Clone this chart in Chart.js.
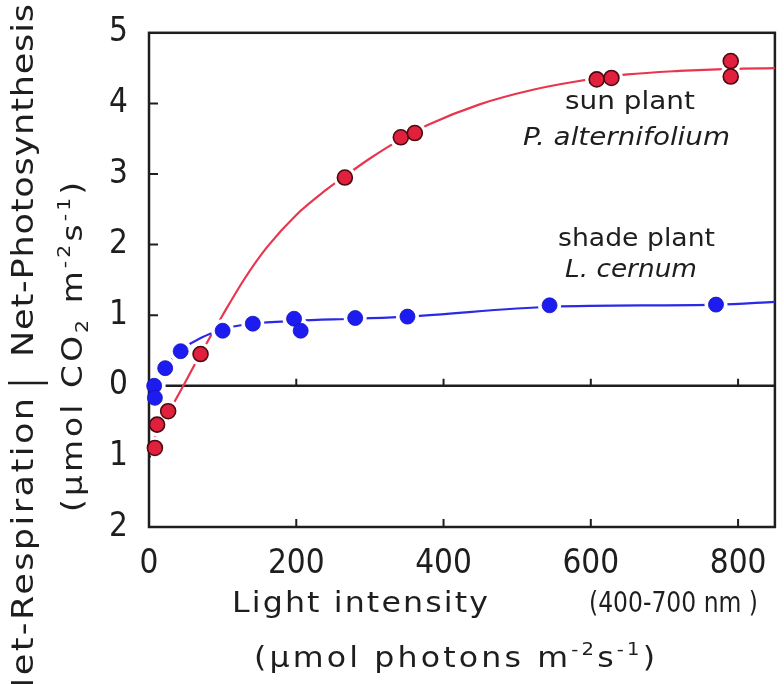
<!DOCTYPE html>
<html>
<head>
<meta charset="utf-8">
<script src="https://cdn.jsdelivr.net/npm/chart.js@4/dist/chart.umd.min.js"></script>
<style>
  html, body { margin: 0; padding: 0; background: #fff; }
  canvas { display: block; }
</style>
</head>
<body>
<canvas id="chart" width="784" height="684"></canvas>
<script>
// light response of photosynthesis: sun plant vs shade plant

// measured points, sun plant (P. alternifolium)
const sunLight = [8, 11, 26, 70, 266, 342, 361, 608, 628, 790, 790];
const sunPhoto = [-0.88, -0.55, -0.36, 0.45, 2.95, 3.52, 3.58, 4.34, 4.36, 4.60, 4.38];

// measured points, shade plant (L. cernum)
const shadeLight = [7, 8, 22, 43, 100, 141, 197, 206, 280, 351, 544, 770];
const shadePhoto = [0.0, -0.17, 0.25, 0.49, 0.78, 0.88, 0.95, 0.78, 0.96, 0.98, 1.14, 1.15];

// hand-drawn response curves
const sunCurveLight = [5, 11, 26, 70, 100, 130, 160, 200, 240, 270, 300, 340, 380, 450, 520, 580, 650, 720, 790, 850];
const sunCurvePhoto = [-0.85, -0.62, -0.38, 0.45, 1.0, 1.52, 1.96, 2.42, 2.77, 3.0, 3.22, 3.48, 3.7, 3.99, 4.19, 4.31, 4.41, 4.46, 4.49, 4.5];
const shadeCurveLight = [5, 22, 43, 100, 141, 200, 280, 352, 546, 772, 850];
const shadeCurvePhoto = [0.0, 0.26, 0.5, 0.8, 0.88, 0.92, 0.95, 0.98, 1.12, 1.15, 1.19];

// axis ticks
const xTicks = [0, 200, 400, 600, 800];
const yTicks = [-2, -1, 0, 1, 2, 3, 4, 5];

const ink = '#1e1e1e';
const sunLine = '#e8364f';
const sunDot = '#e0203c';
const shadeLine = '#2a2ae6';
const shadeDot = '#1c1cf0';
const tickFam = '"DejaVu Sans Condensed", "DejaVu Sans", sans-serif';
const textFam = '"DejaVu Sans", sans-serif';

const pts = (xs, ys) => xs.map((x, i) => ({ x: x, y: ys[i] }));

// draws a run of text pieces (normal / sup / sub) fitted to a given width:
// squeezed when too long, otherwise widened a little and letter-spaced
function drawRich(ctx, parts, size, italic, width) {
  const font = s => (italic ? 'italic ' : '') + s + 'px ' + textFam;
  const small = size * 0.62;
  const canSpace = 'letterSpacing' in ctx;
  if (canSpace) ctx.letterSpacing = '0px';
  let total = 0, chars = 0;
  const widths = parts.map(([t, m]) => {
    ctx.font = font(m === 'n' ? size : small);
    const w = ctx.measureText(t).width;
    total += w;
    chars += t.length;
    return w;
  });
  const ratio = width / total;
  const stretch = (ratio <= 1 || !canSpace) ? ratio : Math.min(ratio, 1.13);
  let gap = 0;
  ctx.save();
  ctx.scale(stretch, 1);
  if (canSpace && ratio > 1) {
    gap = (width / stretch - total) / Math.max(chars - 1, 1);
    ctx.letterSpacing = gap.toFixed(2) + 'px';
  }
  let x = 0;
  parts.forEach(([t, m], i) => {
    ctx.font = font(m === 'n' ? size : small);
    const dy = m === 'sup' ? -size * 0.42 : m === 'sub' ? size * 0.22 : 0;
    ctx.fillText(t, x, dy);
    x += widths[i] + gap * t.length;
  });
  ctx.restore();
  if (canSpace) ctx.letterSpacing = '0px';
}

function textAt(ctx, parts, size, italic, x0, x1, baseline) {
  ctx.save();
  ctx.translate(x0, baseline);
  drawRich(ctx, parts, size, italic, x1 - x0);
  ctx.restore();
}

function textUp(ctx, parts, size, baseX, yBottom, yTop) {
  ctx.save();
  ctx.translate(baseX, yBottom);
  ctx.rotate(-Math.PI / 2);
  drawRich(ctx, parts, size, false, yBottom - yTop);
  ctx.restore();
}

const framePlugin = {
  id: 'frame',
  beforeDatasetsDraw(chart) {
    const { ctx, chartArea: a, scales: { x, y } } = chart;
    const y0 = y.getPixelForValue(0);
    ctx.save();
    ctx.strokeStyle = ink;
    ctx.lineWidth = 2.5;
    ctx.strokeRect(a.left, a.top, a.right - a.left, a.bottom - a.top);
    ctx.beginPath();
    ctx.moveTo(a.left, y0);
    ctx.lineTo(a.right, y0);
    ctx.stroke();
    ctx.lineWidth = 2;
    ctx.beginPath();
    xTicks.filter(v => v > 0).forEach(v => {
      const px = x.getPixelForValue(v);
      ctx.moveTo(px, a.bottom);
      ctx.lineTo(px, a.bottom - 8);
      ctx.moveTo(px, y0);
      ctx.lineTo(px, y0 - 7);
    });
    yTicks.filter(v => v !== 0 && v > -2 && v < 5).forEach(v => {
      const py = y.getPixelForValue(v);
      ctx.moveTo(a.left, py);
      ctx.lineTo(a.left + 9, py);
    });
    ctx.stroke();
    ctx.restore();
  }
};

// white rings under the markers so the curves and the zero line break around them
const haloPlugin = {
  id: 'halo',
  beforeDatasetDraw(chart, args) {
    if (args.index !== 2) return;
    const { ctx, chartArea: a } = chart;
    ctx.save();
    ctx.beginPath();
    ctx.rect(a.left + 2, a.top + 2, a.right - a.left - 4, a.bottom - a.top - 4);
    ctx.clip();
    ctx.fillStyle = '#fff';
    [2, 3].forEach(i => {
      chart.getDatasetMeta(i).data.forEach(p => {
        ctx.beginPath();
        ctx.arc(p.x, p.y, 11.5, 0, Math.PI * 2);
        ctx.fill();
      });
    });
    ctx.restore();
  }
};

const labelPlugin = {
  id: 'labels',
  afterDraw(chart) {
    const ctx = chart.ctx;
    ctx.save();
    ctx.fillStyle = ink;
    ctx.textBaseline = 'alphabetic';
    ctx.textAlign = 'left';

    // y axis title, two rotated lines
    textUp(ctx, [['Net-Respiration', 'n']], 31, 33, 704, 398);
    textUp(ctx, [['Net-Photosynthesis', 'n']], 31, 33, 357, 4);
    ctx.strokeStyle = ink;
    ctx.lineWidth = 2.5;
    ctx.beginPath();
    ctx.moveTo(8, 383);
    ctx.lineTo(48, 383);
    ctx.stroke();
    textUp(ctx, [['(μmol CO', 'n'], ['2', 'sub'], [' m', 'n'], ['-2', 'sup'], ['s', 'n'], ['-1', 'sup'], [')', 'n']], 29, 82, 512, 182);

    // x axis title
    textAt(ctx, [['Light intensity', 'n']], 28, false, 232, 488, 612);
    textAt(ctx, [['(400-700 nm )', 'n']], 28, false, 589, 758, 612);
    textAt(ctx, [['(μmol photons m', 'n'], ['-2', 'sup'], ['s', 'n'], ['-1', 'sup'], [')', 'n']], 28, false, 254, 655, 667);

    // series labels
    textAt(ctx, [['sun plant', 'n']], 25, false, 565, 695, 109);
    textAt(ctx, [['P. alternifolium', 'n']], 25, true, 523, 730, 145);
    textAt(ctx, [['shade plant', 'n']], 25, false, 558, 715, 246);
    textAt(ctx, [['L. cernum', 'n']], 25, true, 565, 697, 277);
    ctx.restore();
  }
};

new Chart(document.getElementById('chart'), {
  type: 'scatter',
  data: {
    datasets: [
      {
        data: pts(sunCurveLight, sunCurvePhoto),
        showLine: true, pointRadius: 0, borderColor: sunLine, borderWidth: 2.2,
        cubicInterpolationMode: 'monotone', order: 4
      },
      {
        data: pts(shadeCurveLight, shadeCurvePhoto),
        showLine: true, pointRadius: 0, borderColor: shadeLine, borderWidth: 2.2,
        cubicInterpolationMode: 'monotone', order: 3
      },
      {
        data: pts(shadeLight, shadePhoto),
        pointRadius: 7.5, backgroundColor: shadeDot, borderColor: '#1414b8', borderWidth: 0.8,
        clip: false, order: 1
      },
      {
        data: pts(sunLight, sunPhoto),
        pointRadius: 7.5, backgroundColor: sunDot, borderColor: '#4a0a12', borderWidth: 1.6,
        clip: false, order: 0
      }
    ]
  },
  options: {
    responsive: false,
    animation: false,
    events: [],
    layout: { padding: { top: 23, right: 4, left: 0, bottom: 0 } },
    plugins: { legend: { display: false }, tooltip: { enabled: false } },
    scales: {
      x: {
        type: 'linear', min: 0, max: 850,
        afterFit: s => { s.height = 157; },
        afterBuildTicks: s => { s.ticks = xTicks.map(v => ({ value: v })); },
        grid: { display: false },
        border: { display: false },
        ticks: { padding: 10, color: ink, font: { family: tickFam, size: 33 } }
      },
      y: {
        type: 'linear', min: -2, max: 5,
        afterFit: s => { s.width = 149; },
        afterBuildTicks: s => { s.ticks = yTicks.map(v => ({ value: v })); },
        grid: { display: false },
        border: { display: false },
        ticks: { padding: 13, color: ink, font: { family: tickFam, size: 33 }, callback: v => Math.abs(v) }
      }
    }
  },
  plugins: [framePlugin, haloPlugin, labelPlugin]
});
</script>
</body>
</html>
